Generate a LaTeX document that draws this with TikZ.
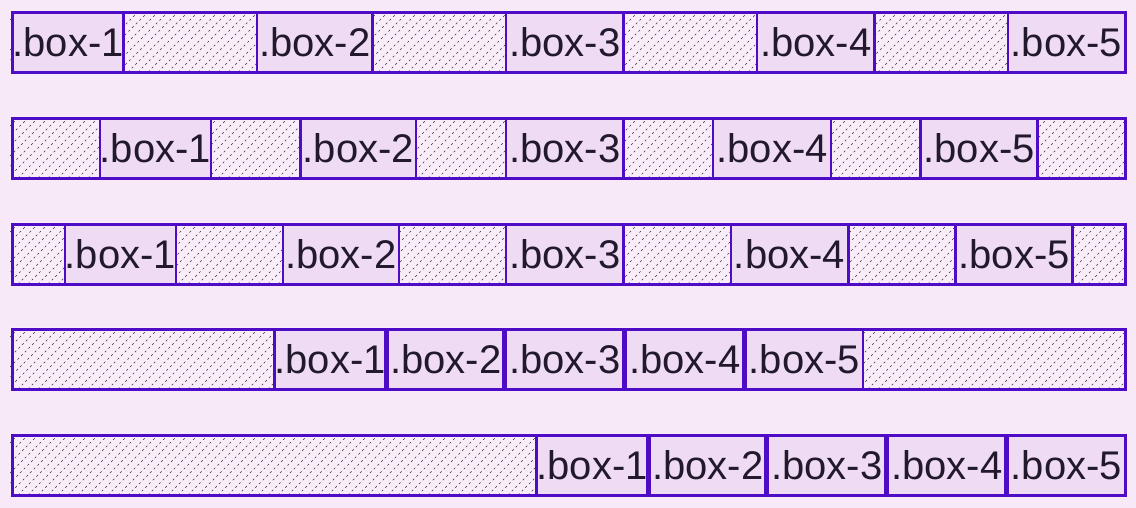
\documentclass[tikz,border=0pt]{standalone}
\usepackage{fontspec}
\setmainfont{Liberation Sans}
\definecolor{pagebg}{HTML}{F7E9F7}
\definecolor{hatchbg}{HTML}{FAEDFA}
\definecolor{boxfill}{HTML}{EFDCF4}
\definecolor{bord}{HTML}{4E0CC6}
\definecolor{txt}{HTML}{221A2C}
\begin{document}
\begin{tikzpicture}[x=1pt,y=-1pt,
  container/.style={draw=bord, line width=2.6pt, rectangle, anchor=north west,
    minimum width=1113pt, minimum height=60pt, inner sep=0pt},
  flexbox/.style={draw=bord, fill=boxfill, line width=2.4pt, rectangle, anchor=north west,
    minimum height=60pt, inner sep=0pt, text=txt, font=\fontsize{40}{40}\selectfont,
    text height=28.5pt, text depth=0pt},
  hatch/.style={black!80, line width=0.45pt, dash pattern=on 2.2pt off 3pt}]
\fill[pagebg] (0,0) rectangle (1136,508);
\useasboundingbox (0,0) rectangle (1136,508);
\foreach \r/\top/\edge/\gap in {1/10/0/131, 2/116/87.333/87.333, 3/222/52.4/104.8, 4/327/262/0, 5/433/524/0}{
  \begin{scope}
    \clip (10,\top) rectangle (1125,{\top+62});
    \fill[hatchbg] (10,\top) rectangle (1125,{\top+62});
    \foreach \k in {-62,-52,...,1130}
      \draw[hatch] (\k,{\top+62}) -- ({\k+62},\top);
  \end{scope}
  \foreach \i/\w/\cum in {1/113.5/0, 2/118/113.5, 3/120/231.5, 4/120/351.5, 5/119.5/471.5}{
    \pgfmathsetmacro\bx{10+\edge+\cum+(\i-1)*\gap+1.2}
    \pgfmathsetmacro\bw{\w-2.4}
    \node[flexbox, minimum width=\bw pt] (r\r b\i) at (\bx,{\top+1}) {.box-\i};
  }
  \node[container] (row\r) at (11,{\top+1}) {};
}
\end{tikzpicture}
\end{document}
